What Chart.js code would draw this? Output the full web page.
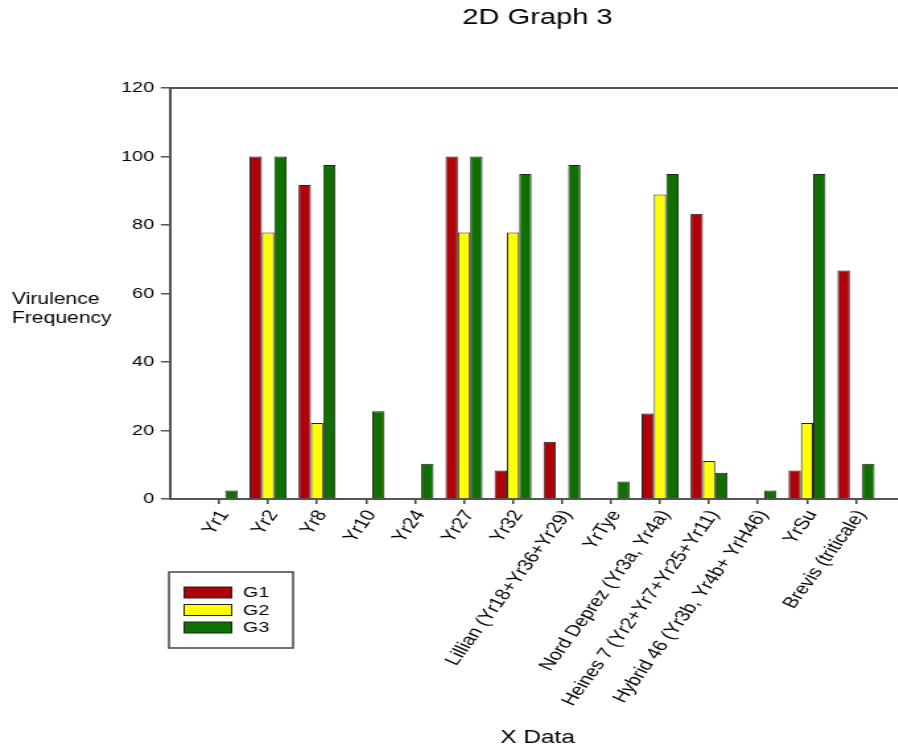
<!DOCTYPE html>
<html>
<head>
<meta charset="utf-8">
<script src="https://cdn.jsdelivr.net/npm/chart.js@4/dist/chart.umd.min.js"></script>
<style>
	body { margin: 0; overflow: hidden; background: #fff; }
	/* the original picture is stretched sideways, so the canvas is too */
	#wrap { width: 697px; height: 751px; transform: scaleX(1.32); transform-origin: 0 0; }
</style>
</head>
<body>
<div id="wrap"><canvas id="chart" width="697" height="751"></canvas></div>
<script>
const categories = ['Yr1', 'Yr2', 'Yr8', 'Yr10', 'Yr24', 'Yr27', 'Yr32', 'Lillian (Yr18+Yr36+Yr29)', 'YrTye',
	'Nord Deprez (Yr3a, Yr4a)', 'Heines 7 (Yr2+Yr7+Yr25+Yr11)', 'Hybrid 46 (Yr3b, Yr4b+ YrH46)', 'YrSu', 'Brevis (triticale)'];
const g1 = [null, 100, 91.7, null, null, 100, 8.3, 16.7, null, 25, 83.3, null, 8.3, 66.7];
const g2 = [null, 77.8, 22.2, null, null, 77.8, 77.8, null, null, 88.9, 11.1, null, 22.2, null];
const g3 = [2.5, 100, 97.5, 25.6, 10.3, 100, 94.9, 97.5, 5.1, 94.9, 7.7, 2.5, 94.9, 10.3];
const yTicks = [0, 20, 40, 60, 80, 100, 120];

const font = 'Arial, "Liberation Sans", sans-serif';

function toPoints(values) {
	return values.map((v, i) => ({x: i + 1, y: v}));
}

// top frame line, horizontal y title and the boxed legend
const extras = {
	id: 'extras',
	afterDraw(chart) {
		const ctx = chart.ctx;
		const area = chart.chartArea;
		ctx.save();
		ctx.strokeStyle = '#555';
		ctx.lineWidth = 2;
		ctx.beginPath();
		ctx.moveTo(area.left - 1, area.top);
		ctx.lineTo(chart.width, area.top);
		ctx.stroke();

		ctx.fillStyle = '#000';
		ctx.font = '16px ' + font;
		ctx.textBaseline = 'middle';
		ctx.textAlign = 'left';
		ctx.fillText('Virulence', 9, 300);
		ctx.fillText('Frequency', 9, 319);

		ctx.strokeStyle = '#444';
		ctx.lineWidth = 1.5;
		ctx.strokeRect(128, 572, 94, 76);
		ctx.font = '15px ' + font;
		chart.data.datasets.forEach((d, i) => {
			const y = 587 + i * 17.5;
			ctx.fillStyle = d.backgroundColor;
			ctx.fillRect(139.5, y, 36, 11);
			ctx.strokeStyle = '#222';
			ctx.lineWidth = 1;
			ctx.strokeRect(139.5, y, 36, 11);
			ctx.fillStyle = '#000';
			ctx.fillText(d.label, 184, y + 6);
		});
		ctx.restore();
	}
};

const config = {
	type: 'bar',
	data: {
		datasets: [
			{label: 'G1', data: toPoints(g1), backgroundColor: '#b00008', borderColor: '#222', borderWidth: 1},
			{label: 'G2', data: toPoints(g2), backgroundColor: '#ffff00', borderColor: '#222', borderWidth: 1},
			{label: 'G3', data: toPoints(g3), backgroundColor: '#0f7000', borderColor: '#222', borderWidth: 1}
		]
	},
	options: {
		responsive: false,
		animation: false,
		categoryPercentage: 0.755,
		barPercentage: 1,
		layout: {
			padding: {left: 88.8, right: 11.4, top: 0, bottom: 0}
		},
		plugins: {
			legend: {display: false},
			tooltip: {enabled: false},
			title: {
				display: true,
				text: '2D Graph 3',
				fullSize: false,
				color: '#000',
				font: {family: font, size: 22, weight: 'normal'},
				padding: {top: 4.8, bottom: 56.8}
			}
		},
		scales: {
			x: {
				type: 'linear',
				min: 0,
				max: 15,
				offset: false,
				afterBuildTicks: scale => {
					scale.ticks = categories.map((c, i) => ({value: i + 1}));
				},
				afterFit: scale => {
					scale.height = 252;
				},
				ticks: {
					autoSkip: false,
					minRotation: 60,
					maxRotation: 60,
					padding: 3,
					labelOffset: 4,
					color: '#000',
					font: {family: font, size: 16},
					callback: v => categories[v - 1]
				},
				grid: {drawOnChartArea: false, offset: false, tickLength: 5, color: '#444', lineWidth: 1.5},
				border: {color: '#555', width: 2},
				title: {
					display: true,
					text: 'X Data',
					color: '#000',
					font: {family: font, size: 18.5},
					padding: {top: 0, bottom: 2}
				}
			},
			y: {
				min: 0,
				max: 120,
				afterBuildTicks: scale => {
					scale.ticks = yTicks.map(v => ({value: v}));
				},
				afterFit: scale => {
					scale.width = 40;
				},
				ticks: {
					padding: 5,
					color: '#000',
					font: {family: font, size: 15}
				},
				grid: {drawOnChartArea: false, tickLength: 7, color: '#555', lineWidth: 1.5},
				border: {color: '#555', width: 2}
			}
		}
	},
	plugins: [extras]
};

new Chart(document.getElementById('chart'), config);
</script>
</body>
</html>
